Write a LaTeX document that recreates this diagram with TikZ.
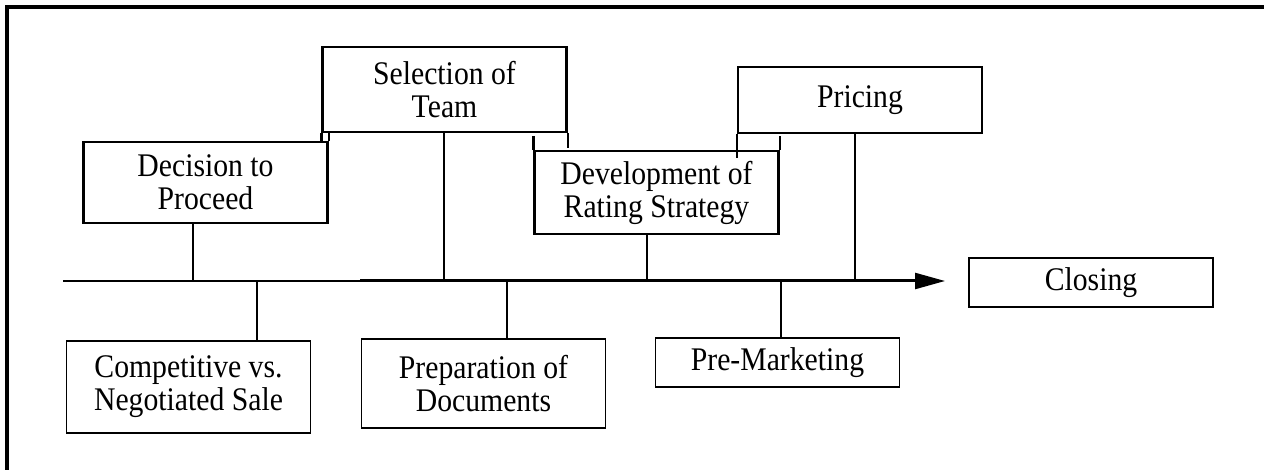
\documentclass[tikz,border=0pt]{standalone}
\usepackage{fontspec}
\setmainfont[FakeStretch=0.9]{Liberation Serif}
\usepackage{tikz}
\usetikzlibrary{arrows.meta}

\begin{document}
\begin{tikzpicture}[
  x=0.5pt,y=-0.5pt,
  font=\fontsize{16.5}{16.5}\selectfont,
  stage/.style={draw,line width=1.2pt,inner sep=0pt,align=center,minimum width=122pt},
  lowstage/.style={stage,line width=0.9pt},
  tick/.style={line width=1pt},
  axis/.style={line width=1.2pt,-{Triangle[length=15pt,width=8pt]}},
]
\useasboundingbox (0,0) rectangle (1264,470);
\draw[line width=1.6pt] (1264,7) -| (7,470);

% stages above the line
\node[stage,minimum height=40.5pt] (dec) at (205.5,182.5) {Decision to\\Proceed};
\node[stage,minimum height=42.5pt] (sel) at (444.5,89.5) {Selection of\\Team};
\node[stage,minimum height=41.5pt] (dev) at (656.5,192.5) {Development of\\Rating Strategy};
\node[stage,minimum height=33pt] (pri) at (860,100) {Pricing};

% stages below the line
\node[lowstage,minimum height=46pt] (cmp) at (188.5,387) {Competitive vs.\\Negotiated Sale};
\node[lowstage,minimum height=44.5pt] (doc) at (483.5,383.5) {Preparation of\\Documents};
\node[lowstage,minimum height=24.5pt] (mkt) at (777.5,362.5) {Pre-Marketing};
\node[lowstage,minimum height=24.5pt] (clo) at (1091,282.5) {Closing};

% overlapping box edges
\draw[line width=1.2pt] (sel.south west) -- (sel.south west |- dec.north);
\draw[line width=1.2pt] (dec.north east) -- (dec.north east |- sel.south);
\draw[line width=1.2pt] (sel.south east) -- +(0,15);
\draw[line width=1.2pt] (dev.north west) -- +(0,-14);
\draw[line width=1.2pt] (dev.north east) -- +(0,-14);
\draw[line width=1.2pt] (pri.south west) -- +(0,24);

% time line
\coordinate (start) at (63,281);
\coordinate (stop) at (945,281);
\coordinate (mid) at (360,279.5);
\coordinate (midend) at (915,279.5);
\draw[axis] (start) -- (stop);
\draw[line width=0.6pt] (mid) -- (midend);

\coordinate (tdec) at (193,281);
\coordinate (tsel) at (444,281);
\coordinate (tdev) at (647,281);
\coordinate (tpri) at (855,281);
\coordinate (tcmp) at (257,281);
\coordinate (tdoc) at (507,281);
\coordinate (tmkt) at (781,281);

\draw[tick] (tdec) -- (tdec |- dec.south);
\draw[tick] (tsel) -- (tsel |- sel.south);
\draw[tick] (tdev) -- (tdev |- dev.south);
\draw[tick] (tpri) -- (tpri |- pri.south);
\draw[tick] (tcmp) -- (tcmp |- cmp.north);
\draw[tick] (tdoc) -- (tdoc |- doc.north);
\draw[tick] (tmkt) -- (tmkt |- mkt.north);
\end{tikzpicture}
\end{document}
